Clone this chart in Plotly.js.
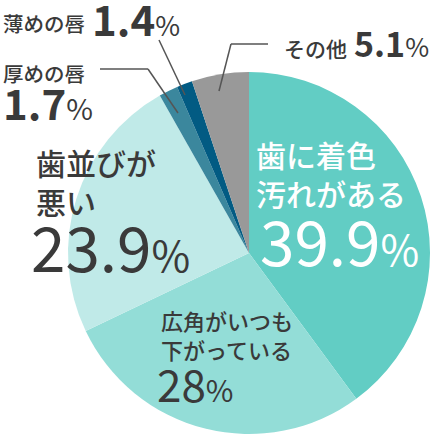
<!DOCTYPE html>
<html>
<head>
<meta charset="utf-8">
<script src="https://cdn.plot.ly/plotly-3.0.1.min.js"></script>
<style>
html,body{margin:0;padding:0;background:#fff;}
#chart{width:435px;height:434px;}
</style>
</head>
<body>
<div id="chart"></div>
<script>
// Data
const categories = ["歯に着色汚れがある", "広角がいつも下がっている", "歯並びが悪い", "厚めの唇", "薄めの唇", "その他"];
const values = [39.9, 28, 23.9, 1.7, 1.4, 5.1];
const colors = ["#62cdc4", "#93ddd7", "#c0eae8", "#3b879d", "#025b83", "#999999"];
const labelLines = ["歯に着色<br>汚れがある", "広角がいつも<br>下がっている", "歯並びが<br>悪い", "厚めの唇", "薄めの唇", "その他"];

const W = 435, H = 434;
const px = x => x / W;
const py = y => 1 - y / H;
const FONT = "Noto Sans CJK JP, Noto Sans, sans-serif";
const DARK = "#3a3a3a";

function pct(v, pSize) {
  return String(v) + "<span style='font-size:" + pSize + "px;font-weight:400'>%</span>";
}

function ann(text, x, y, size, color, weight) {
  return {
    text: text, xref: "paper", yref: "paper", x: px(x), y: py(y),
    xanchor: "left", yanchor: "middle", showarrow: false, align: "left",
    font: {family: FONT, size: size, color: color, weight: weight || 500}
  };
}

const annotations = [
  ann(labelLines[4], 1, 23, 20.5, DARK),
  ann(pct(values[4], 27), 90, 17, 42, DARK, 700),
  ann(labelLines[3], 1, 73, 20.5, DARK),
  ann(pct(values[3], 29), 1, 102, 42, DARK, 700),
  ann(labelLines[5], 282, 48, 21, DARK),
  ann(pct(values[5], 26), 352, 43, 34, DARK, 700),
  ann(labelLines[2], 34, 181, 30, DARK),
  ann(pct(values[2], 42), 29, 245, 62, DARK, 400),
  ann(labelLines[0], 254, 173, 30, "#ffffff"),
  ann(pct(values[0], 42), 258, 239, 62, "#ffffff", 400),
  ann(labelLines[1], 159, 334, 22, DARK),
  ann(pct(values[1], 30), 155, 383, 44, DARK, 400)
];

const lc = "#555555", lw = 1.5;
function seg(x0, y0, x1, y1) {
  return {type: "line", xref: "paper", yref: "paper", x0: px(x0), y0: py(y0), x1: px(x1), y1: py(y1),
          line: {color: lc, width: lw}};
}
const shapes = [
  seg(159, 40, 185, 95),
  seg(100, 69, 148, 69), seg(148, 69, 178, 113),
  seg(219, 91, 231, 44), seg(231, 44, 268, 44)
];

const cx = 249, cy = 253, r = 181;
const trace = {
  type: "pie",
  labels: categories,
  values: values,
  sort: false,
  direction: "clockwise",
  rotation: 0,
  textinfo: "none",
  hoverinfo: "label+percent",
  marker: {colors: colors, line: {width: 0}},
  domain: {x: [px(cx - r), px(cx + r)], y: [py(cy + r), py(cy - r)]},
  showlegend: false
};

Plotly.newPlot("chart", [trace], {
  width: W, height: H,
  margin: {l: 0, r: 0, t: 0, b: 0},
  paper_bgcolor: "#ffffff",
  showlegend: false,
  annotations: annotations,
  shapes: shapes
}, {displayModeBar: false, staticPlot: true});
</script>
</body>
</html>
